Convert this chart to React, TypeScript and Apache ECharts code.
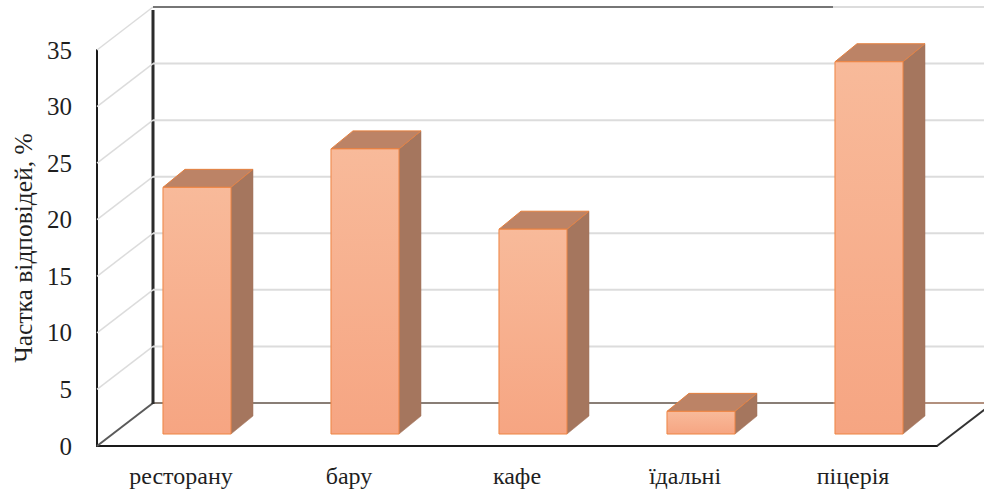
import React, { useEffect, useRef } from "react";
import * as echarts from "echarts";

const categories = ["ресторану", "бару", "кафе", "їдальні", "піцерія"];
const shares = [21.8, 25.2, 18.1, 2.0, 32.9];
const ticks = [0, 5, 10, 15, 20, 25, 30, 35];
const yTitle = "Частка відповідей, %";

const WALL_DX = 56;
const WALL_DY = -43;
const BAR_DX = 16;
const BAR_DY = -12;
const DEPTH_DX = 22;
const DEPTH_DY = -18;
const FONT = '"Liberation Serif", "Times New Roman", serif';

export default function App() {
  const ref = useRef<HTMLDivElement>(null);
  useEffect(() => {
    document.body.style.margin = "0";
    const chart = echarts.init(ref.current!, null, { renderer: "svg" });
    chart.setOption({
      animation: false,
      backgroundColor: "#ffffff",
      grid: { left: 97, right: 47, top: 50, bottom: 45, containLabel: false, outerBoundsMode: "none" },
      xAxis: {
        type: "category",
        data: categories,
        axisLine: { show: true, lineStyle: { color: "#1a1a1a", width: 2 } },
        axisTick: { show: false },
        axisLabel: { fontFamily: FONT, fontSize: 24, color: "#1f1f1f", margin: 18 },
      },
      yAxis: {
        type: "value",
        min: 0,
        max: 35,
        interval: 5,
        name: yTitle,
        nameLocation: "middle",
        nameGap: 59,
        nameTextStyle: { fontFamily: FONT, fontSize: 25.5, color: "#1f1f1f" },
        axisLine: { show: true, lineStyle: { color: "#1a1a1a", width: 2 } },
        axisTick: { show: false },
        splitLine: { show: false },
        axisLabel: { fontFamily: FONT, fontSize: 25, color: "#1f1f1f", margin: 25, padding: [4, 0, 0, 0] },
      },
      series: [
        {
          type: "custom",
          z: 1,
          silent: true,
          data: ticks.map((t) => [0, t]),
          encode: { x: 0, y: 1 },
          renderItem: (params: any, api: any) => {
            const v = api.value(1);
            const y = api.coord([0, v])[1];
            const cs = params.coordSys;
            const x0 = cs.x;
            const x1 = cs.x + cs.width;
            const edge = v === 0 ? "#5a5a5a" : "#dcdcdc";
            const children: any[] = [];
            const line = (a: number, b: number, c: number, d: number, color: string, w: number) => ({
              type: "line",
              shape: { x1: a, y1: b, x2: c, y2: d },
              style: { stroke: color, lineWidth: w },
            });
            const isFrameRow = v === 35 || v === 0;
            children.push(
              line(x0, y, x0 + WALL_DX, y + WALL_DY, edge, v === 0 ? 2 : 1.5),
              line(x0 + WALL_DX, y + WALL_DY, x1 + WALL_DX, y + WALL_DY, "#dcdcdc", 2)
            );
            if (isFrameRow) {
              children.push(
                line(x0 + WALL_DX, y + WALL_DY, x0 + WALL_DX + 680, y + WALL_DY, v === 0 ? "#6e5f55" : "#555555", 1.5)
              );
            }
            if (v === 0) {
              children.push(
                line(x1, y, x1 + WALL_DX, y + WALL_DY, "#333333", 2),
                line(x0 + WALL_DX + 680, y + WALL_DY, x1 + WALL_DX, y + WALL_DY, "#a5775f", 1.5),
                line(x0 + WALL_DX, y + WALL_DY + 1, x0 + WALL_DX, cs.y + WALL_DY + 3, "#2b2b2b", 3)
              );
            }
            return { type: "group", children };
          },
        },
        {
          type: "custom",
          z: 2,
          silent: true,
          data: shares.map((s, i) => [i, s]),
          encode: { x: 0, y: 1 },
          renderItem: (_params: any, api: any) => {
            const top = api.coord([api.value(0), api.value(1)]);
            const base = api.coord([api.value(0), 0]);
            const w = api.size([1, 0])[0] * 0.405;
            const l = top[0] + BAR_DX - w / 2;
            const r = l + w;
            const t = top[1] + BAR_DY;
            const b = base[1] + BAR_DY;
            const front = new echarts.graphic.LinearGradient(0, 0, 0, 1, [
              { offset: 0, color: "#f8ba9a" },
              { offset: 1, color: "#f6a582" },
            ]);
            const poly = (pts: number[][], fill: any, stroke: string, lw: number) => ({
              type: "polygon",
              shape: { points: pts },
              style: { fill, stroke, lineWidth: lw },
            });
            return {
              type: "group",
              children: [
                poly(
                  [
                    [r, t],
                    [r + DEPTH_DX, t + DEPTH_DY],
                    [r + DEPTH_DX, b + DEPTH_DY],
                    [r, b],
                  ],
                  "#a5765e",
                  "#a5765e",
                  0.5
                ),
                poly(
                  [
                    [l, t],
                    [l + DEPTH_DX, t + DEPTH_DY],
                    [r + DEPTH_DX, t + DEPTH_DY],
                    [r, t],
                  ],
                  "#bc8366",
                  "#e5803f",
                  1
                ),
                poly(
                  [
                    [l, t],
                    [r, t],
                    [r, b],
                    [l, b],
                  ],
                  front,
                  "#ee8442",
                  1
                ),
              ],
            };
          },
        },
      ],
    });
    return () => chart.dispose();
  }, []);
  return <div ref={ref} style={{ position: "absolute", left: 0, top: 0, width: 984, height: 491, overflow: "hidden" }} />;
}
